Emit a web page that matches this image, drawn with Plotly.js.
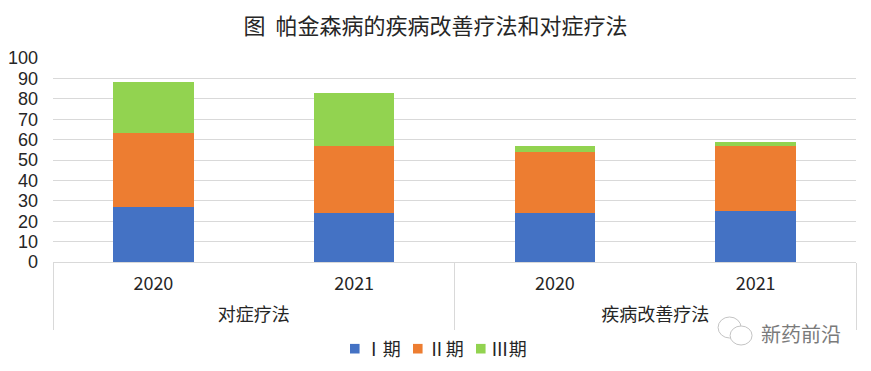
<!DOCTYPE html>
<html><head><meta charset="utf-8">
<script src="https://cdn.plot.ly/plotly-3.0.1.min.js"></script>
<style>html,body{margin:0;padding:0;background:#fff}</style></head>
<body><div id="chart" style="width:871px;height:371px"></div>
<script>
const groups = ["对症疗法","对症疗法","疾病改善疗法","疾病改善疗法"];
const years = ["2020","2021","2020","2021"];
const stage1 = [27,24,24,25];
const stage2 = [36,33,30,32];
const stage3 = [25,26,3,2];
const names = ["Ⅰ期","Ⅱ期","Ⅲ期"];
const colors = ["#4472C4","#ED7D31","#92D350"];
const fontFam = '"Liberation Sans","Noto Sans CJK SC",sans-serif';
const cjk = '"Noto Sans CJK SC",sans-serif';
const traces = [stage1,stage2,stage3].map((v,i)=>({
  type:'bar', x:[groups,years], y:v, name:names[i],
  marker:{color:colors[i],line:{width:0}}, width:0.4
}));
const px = x => (x-52.5)/803.5, py = y => (262-y)/204;
const layout = {
  width:871,height:371,
  margin:{l:52.5,r:15,t:58,b:109,autoexpand:false},
  paper_bgcolor:'#fff',plot_bgcolor:'#fff',
  barmode:'stack',
  title:{text:'图\u00a0\u00a0帕金森病的疾病改善疗法和对症疗法',font:{family:cjk,size:22,color:'#262626'},x:0.5,xanchor:'center',xref:'container',y:0.93,yanchor:'middle'},
  font:{family:fontFam,color:'#262626',size:16},
  xaxis:{type:'multicategory',showdividers:true,dividercolor:'#D9D9D9',dividerwidth:1,
    showline:true,linecolor:'#D9D9D9',linewidth:1,ticks:'',tickfont:{family:cjk,size:18,color:'#262626'},
    showgrid:false,zeroline:false,mirror:false,ticklabelstandoff:5},
  yaxis:{range:[0,100],tickmode:'linear',dtick:10,gridcolor:'#D9D9D9',gridwidth:1,zeroline:false,
    showline:false,ticks:'',tickfont:{family:fontFam,size:18,color:'#262626'},ticklabelstandoff:14},
  showlegend:true,
  legend:{orientation:'h',x:(419-52.5)/803.5,xanchor:'center',y:py(349),yanchor:'middle',font:{family:cjk,size:18,color:'#262626'},itemwidth:30,entrywidth:18,entrywidthmode:'pixels',traceorder:'normal'},
  annotations:[{xref:'paper',yref:'paper',x:px(801),y:py(333),text:'新药前沿',showarrow:false,font:{family:cjk,size:20,color:'#7a7a7a'},xanchor:'center',yanchor:'middle'}],
  shapes:[
    {type:'circle',xref:'paper',yref:'paper',x0:px(718),x1:px(741),y0:py(338),y1:py(317),line:{color:'#c4c4c4',width:1}},
    {type:'circle',xref:'paper',yref:'paper',x0:px(730),x1:px(752),y0:py(345),y1:py(326),fillcolor:'#fff',line:{color:'#c4c4c4',width:1}}
  ]
};
Plotly.newPlot('chart',traces,layout,{displayModeBar:false,staticPlot:true}).then(() => {
  document.querySelectorAll('.legend [clip-path]').forEach(n => n.removeAttribute('clip-path'));
  document.querySelectorAll('.legend .legendpoints path').forEach(n => {
    n.setAttribute('transform', (n.getAttribute('transform')||'') + ' translate(10,0) scale(0.8)');
  });
  document.querySelectorAll('.xtick2').forEach(n => n.setAttribute('transform','translate(0,8)'));
  document.querySelectorAll('path.xdivider').forEach(n => {
    n.setAttribute('d', n.getAttribute('d').replace(/([vV])(-?[\d.]+)/, (m,c,v) => c + (+v + 12)));
  });
});
</script></body></html>
